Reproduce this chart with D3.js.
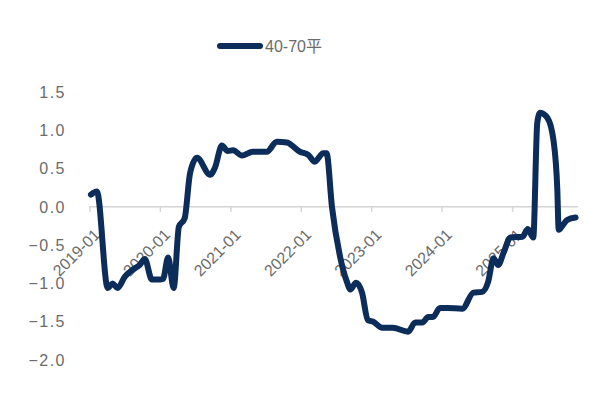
<!DOCTYPE html>
<html>
<head>
<meta charset="utf-8">
<script src="https://cdn.jsdelivr.net/npm/d3@7"></script>
<style>
  body { margin: 0; background: #fff; }
  text { font-family: "Liberation Sans", "Noto Sans CJK SC", sans-serif; fill: #6b6b6b; }
</style>
</head>
<body>
<svg id="chart" width="615" height="405"></svg>
<script>
// series: 40-70平
const dates = [
  "2019-01-06","2019-02-06","2019-04-03","2019-04-28","2019-05-24","2019-07-01","2019-08-10",
  "2019-09-15","2019-10-12","2019-11-18","2019-12-18","2020-01-15","2020-02-10","2020-03-10",
  "2020-04-06","2020-05-06","2020-06-03","2020-07-09","2020-09-15","2020-10-10","2020-11-15",
  "2020-12-15","2021-01-12","2021-02-27","2021-04-24","2021-07-06","2021-08-27","2021-10-18",
  "2021-12-25","2022-02-06","2022-03-12","2022-04-24","2022-05-12","2022-06-09","2022-07-21",
  "2022-08-27","2022-09-12","2022-10-12","2022-11-12","2022-12-12","2023-01-09","2023-02-25",
  "2023-04-21","2023-07-09","2023-08-15","2023-09-21","2023-10-21","2023-11-15","2023-12-21",
  "2024-01-27","2024-04-15","2024-06-12","2024-07-27","2024-08-27","2024-09-24","2024-10-18",
  "2024-11-15","2024-12-21","2025-02-21","2025-03-21","2025-04-18","2025-05-09","2025-05-24",
  "2025-07-01","2025-08-01","2025-08-21","2025-08-28","2025-09-21","2025-10-12","2025-11-24"
];
const values = [
  0.16, 0.20, -1.06, -1.00, -1.06, -0.91, -0.82,
  -0.76, -0.68, -0.95, -0.95, -0.94, -0.66, -1.06,
  -0.26, -0.15, 0.44, 0.64, 0.42, 0.51, 0.80,
  0.73, 0.74, 0.67, 0.72, 0.72, 0.85, 0.84,
  0.72, 0.68, 0.59, 0.70, 0.70, 0.00, -0.65,
  -0.99, -1.08, -0.99, -1.12, -1.48, -1.50, -1.58,
  -1.58, -1.63, -1.51, -1.51, -1.44, -1.44, -1.32,
  -1.32, -1.33, -1.12, -1.11, -0.98, -0.67, -0.76,
  -0.60, -0.40, -0.39, -0.29, -0.40, 1.10, 1.23,
  1.16, 0.87, 0.22, -0.30, -0.23, -0.17, -0.14
];
const yTicks = [1.5, 1.0, 0.5, 0.0, -0.5, -1.0, -1.5, -2.0];
const xTicks = ["2019-01","2020-01","2021-01","2022-01","2023-01","2024-01","2025-01"];
const seriesName = "40-70平";

const parse = d3.timeParse("%Y-%m-%d");
const data = dates.map((d, i) => ({ date: parse(d), value: values[i] }));

const svg = d3.select("#chart");
const lineColor = "#0c2c5a";

const x = d3.scaleTime()
  .domain([parse("2019-01-01"), parse("2025-12-01")])
  .range([90, 577]);
const y = d3.scaleLinear().domain([-2, 1.5]).range([360, 92]);

// y labels
svg.append("g").selectAll("text").data(yTicks).enter().append("text")
  .attr("x", 66).attr("y", d => y(d)).attr("dy", "0.36em")
  .attr("text-anchor", "end")
  .style("font-size", "16px").style("letter-spacing", "1.5px")
  .text(d => d3.format(".1f")(d).replace("-", "\u2212"));

// zero axis with ticks
const y0 = y(0);
svg.append("line").attr("x1", 89).attr("x2", 578).attr("y1", y0).attr("y2", y0)
  .attr("stroke", "#d4d4d4").attr("stroke-width", 1.5);

const tickG = svg.append("g").selectAll("g").data(xTicks).enter().append("g")
  .attr("transform", d => `translate(${x(d3.timeParse("%Y-%m")(d))},${y0})`);
tickG.append("line").attr("y1", 0).attr("y2", 5).attr("stroke", "#d4d4d4").attr("stroke-width", 1.5);
tickG.append("text")
  .attr("text-anchor", "end")
  .attr("transform", "translate(7,25) rotate(-45)")
  .attr("dy", "0.35em")
  .style("font-size", "16px")
  .text(d => d);

// series line
const line = d3.line().x(d => x(d.date)).y(d => y(d.value)).curve(d3.curveMonotoneX);
svg.append("path").datum(data)
  .attr("fill", "none").attr("stroke", lineColor).attr("stroke-width", 6)
  .attr("stroke-linejoin", "round").attr("stroke-linecap", "round")
  .attr("d", line);

// legend
svg.append("line").attr("x1", 220).attr("x2", 260).attr("y1", 46).attr("y2", 46)
  .attr("stroke", lineColor).attr("stroke-width", 6).attr("stroke-linecap", "round");
svg.append("text").attr("x", 265).attr("y", 46).attr("dy", "0.36em")
  .style("font-size", "16px").text(seriesName);
</script>
</body>
</html>
